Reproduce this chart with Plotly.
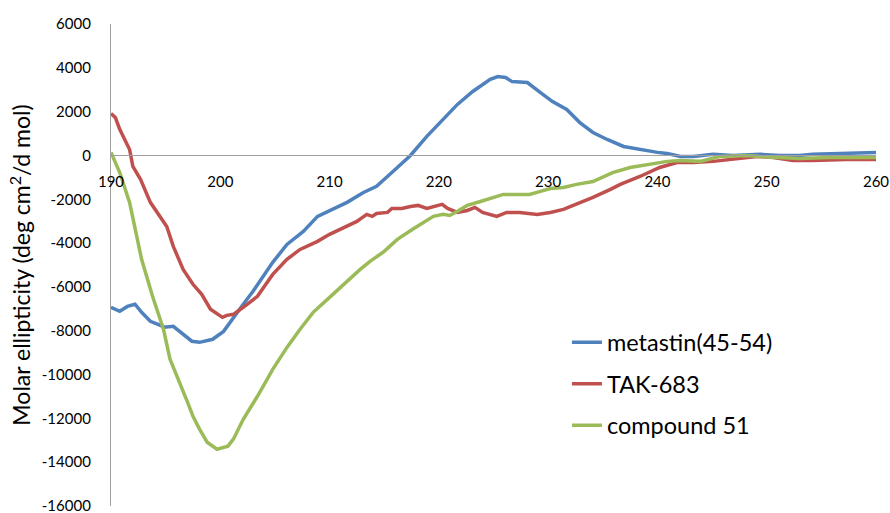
import plotly.graph_objects as go

# CD spectra: wavelength (nm) vs molar ellipticity (deg cm^2/dmol)
wl_metastin = [190.0, 190.8, 191.5, 192.2, 192.8, 193.6, 194.3, 194.9, 195.7, 196.6,
               197.4, 198.1, 198.8, 199.3, 200.3, 201.2, 202.1, 203.0, 203.9, 204.8,
               206.1, 207.6, 208.9, 210.3, 211.6, 213.1, 214.3, 215.8, 217.4, 218.9,
               220.4, 221.7, 223.1, 224.7, 225.4, 226.1, 226.7, 228.1, 229.3, 230.4,
               231.7, 232.9, 234.1, 235.4, 236.9, 238.4, 240.0, 240.9, 242.1, 243.3,
               245.1, 246.9, 249.4, 251.2, 253.0, 254.2, 257.3, 260.0]
ell_metastin = [-6930, -7110, -6890, -6790, -7160, -7570, -7710, -7840, -7800, -8160,
                -8480, -8530, -8440, -8390, -8030, -7390, -6790, -6200, -5520, -4880,
                -4060, -3470, -2780, -2460, -2140, -1690, -1410, -730, 0, 870,
                1640, 2330, 2920, 3470, 3600, 3560, 3370, 3330, 2870, 2460,
                2100, 1500, 1050, 730, 410, 270, 140, 90, -50, -50,
                50, 0, 50, 0, 0, 50, 90, 140]

wl_tak683 = [190.0, 190.4, 190.8, 191.7, 192.0, 192.7, 193.6, 194.5, 195.1, 195.7,
             196.6, 197.5, 198.3, 199.1, 200.2, 200.6, 201.2, 202.1, 203.4, 204.8,
             206.1, 207.3, 208.9, 210.0, 211.6, 212.5, 213.4, 213.9, 214.3, 215.3,
             215.7, 216.6, 217.4, 218.1, 218.9, 220.3, 220.8, 221.7, 222.6, 223.3,
             224.0, 225.3, 226.2, 227.4, 229.0, 230.2, 231.4, 232.6, 234.1, 235.7,
             236.6, 238.4, 240.2, 241.8, 243.3, 245.1, 246.9, 249.1, 250.6, 252.4,
             254.2, 257.3, 260.0]
ell_tak683 = [1910, 1730, 1190, 270, -500, -1090, -2140, -2780, -3240, -4150,
              -5200, -5880, -6340, -7020, -7390, -7300, -7250, -6930, -6430, -5430,
              -4740, -4290, -3920, -3600, -3240, -3010, -2690, -2780, -2650, -2600,
              -2420, -2420, -2330, -2280, -2420, -2230, -2420, -2600, -2510, -2370,
              -2600, -2780, -2600, -2600, -2690, -2600, -2460, -2230, -1910, -1550,
              -1320, -960, -550, -320, -320, -270, -180, -50, -90, -230,
              -230, -180, -180]

wl_cpd51 = [190.0, 190.8, 191.7, 192.3, 192.8, 193.8, 194.8, 195.4, 196.3, 197.0,
            197.5, 198.1, 198.8, 199.7, 200.7, 201.2, 202.1, 203.4, 204.8, 206.1,
            207.3, 208.5, 209.8, 211.0, 211.9, 212.8, 213.7, 214.9, 215.5, 216.2,
            217.6, 218.6, 219.5, 220.4, 221.0, 221.7, 222.6, 223.8, 225.0, 225.9,
            227.2, 228.3, 229.3, 230.2, 231.4, 232.6, 234.1, 235.9, 237.5, 239.0,
            240.9, 242.1, 243.9, 245.7, 248.2, 249.4, 251.2, 253.0, 255.8, 260.0]
ell_cpd51 = [140, -780, -2140, -3600, -4740, -6430, -7930, -9300, -10350, -11260,
             -11900, -12490, -13090, -13410, -13270, -12950, -12040, -10990, -9760, -8760,
             -7930, -7160, -6570, -6020, -5560, -5200, -4830, -4420, -4150, -3830,
             -3370, -3060, -2780, -2690, -2740, -2550, -2280, -2100, -1910, -1780,
             -1780, -1780, -1640, -1510, -1460, -1320, -1190, -780, -550, -410,
             -270, -230, -270, -50, 0, -50, -90, -140, -90, -90]

series_names = ["metastin(45-54)", "TAK-683", "compound 51"]
series_colors = ["#4F81BD", "#C0504D", "#9BBB59"]

x_tick_vals = [190, 200, 210, 220, 230, 240, 250, 260]
x_tick_labels = ["190", "200", "210", "220", "230", "240", "250", "260"]
y_tick_vals = [-16000, -14000, -12000, -10000, -8000, -6000, -4000, -2000, 0, 2000, 4000, 6000]
y_tick_labels = ["-16000", "-14000", "-12000", "-10000", "-8000", "-6000", "-4000", "-2000",
                 "0", "2000", "4000", "6000"]

Y_MIN, Y_MAX = -16000, 6000
FONT = "Lato"

fig = go.Figure()
for i, (xs, ys) in enumerate([(wl_metastin, ell_metastin),
                              (wl_tak683, ell_tak683),
                              (wl_cpd51, ell_cpd51)]):
    fig.add_trace(go.Scatter(
        x=xs, y=ys, mode="lines", name=series_names[i],
        legendgroup=f"g{i}",
        line=dict(color=series_colors[i], width=3.5),
    ))

fig.update_layout(
    width=890, height=513,
    margin=dict(l=111, r=14, t=24, b=7),
    paper_bgcolor="white", plot_bgcolor="white",
    font=dict(family=FONT, color="#000000"),
    showlegend=True,
    legend=dict(
        x=0.596, y=0.385, xanchor="left", yanchor="top",
        font=dict(family=FONT, size=23.5, color="#000000"),
        bgcolor="rgba(0,0,0,0)", borderwidth=0,
        traceorder="grouped", tracegroupgap=8,
    ),
    xaxis=dict(
        range=[190, 260], anchor="free", automargin=False,
        position=(0 - Y_MIN) / (Y_MAX - Y_MIN),
        showline=True, linecolor="#A0A0A0", linewidth=1.3,
        showgrid=False, zeroline=False,
        tickmode="array", tickvals=x_tick_vals, ticktext=x_tick_labels,
        ticks="outside", ticklen=12, tickcolor="rgba(0,0,0,0)",
        tickfont=dict(family=FONT, size=15, color="#000000"),
    ),
    yaxis=dict(
        range=[Y_MIN, Y_MAX], automargin=False,
        showline=True, linecolor="#A0A0A0", linewidth=1.3,
        showgrid=False, zeroline=False,
        tickmode="array", tickvals=y_tick_vals, ticktext=y_tick_labels,
        ticks="outside", ticklen=16, tickcolor="rgba(0,0,0,0)",
        ticklabeloverflow="allow",
        tickfont=dict(family=FONT, size=15, color="#000000"),
        title=dict(text="Molar ellipticity (deg cm<sup>2</sup>/d mol)",
                   font=dict(family=FONT, size=23, color="#000000"),
                   standoff=4),
    ),
)

fig.write_html("out.html")
